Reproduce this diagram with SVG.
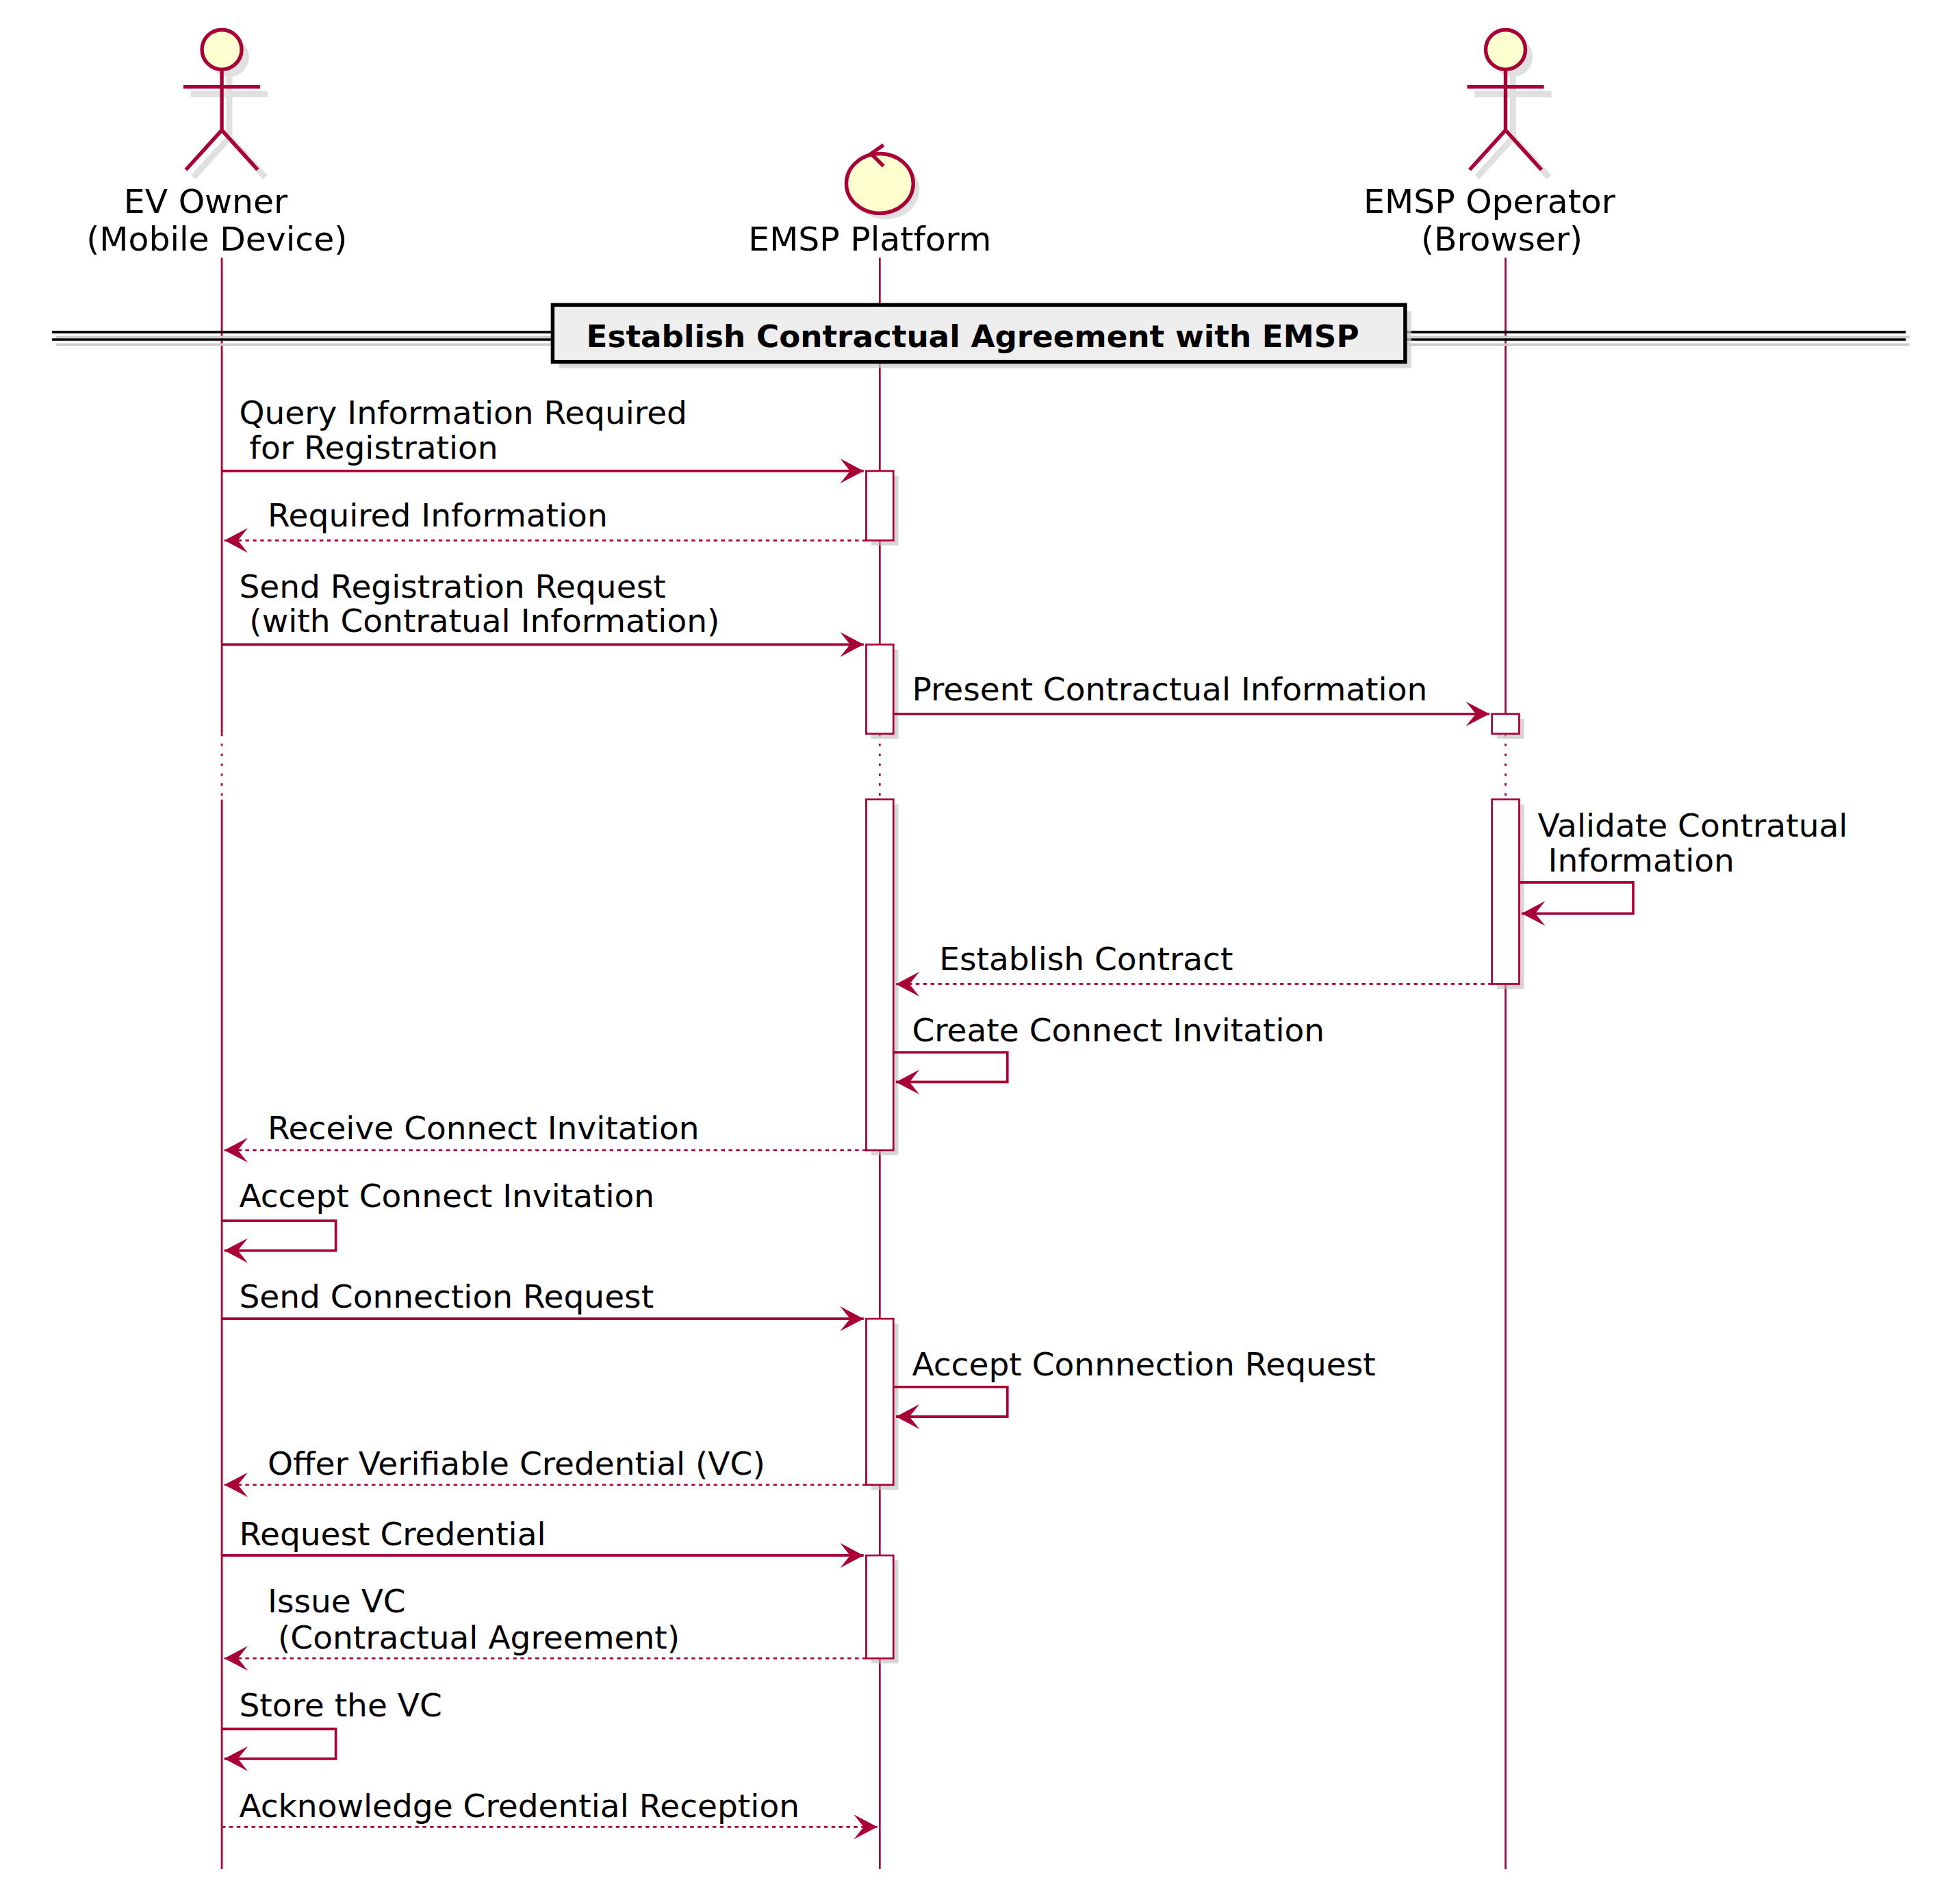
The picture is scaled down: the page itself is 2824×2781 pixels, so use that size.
<svg xmlns="http://www.w3.org/2000/svg" width="2824" height="2781" viewBox="0 0 2824 2781">
<style>
.t{font-family:"DejaVu Sans","Liberation Sans",sans-serif;font-size:26px;fill:#000}
.a{font-family:"DejaVu Sans","Liberation Sans",sans-serif;font-size:27px;fill:#000}
.ll{stroke:#A80036;stroke-width:1.5;fill:none}
.m{stroke:#A80036;stroke-width:2;fill:none}
.d{stroke:#A80036;stroke-width:1.5;fill:none;stroke-dasharray:3,3}
.act{fill:#fff;stroke:#A80036;stroke-width:1.5}
.sh{fill:#bbb;opacity:0.6}
</style>
<defs>
<marker id="arr" viewBox="-22 -11 24 22" refX="0" refY="0" markerWidth="24" markerHeight="22" markerUnits="userSpaceOnUse" orient="auto">
<path d="M0,0 L-19,-10 L-11,0 L-19,10 Z" fill="#A80036"/>
</marker>
<marker id="opn" viewBox="-22 -11 24 22" refX="0" refY="0" markerWidth="24" markerHeight="22" markerUnits="userSpaceOnUse" orient="auto">
<path d="M0,0 L-19,-10 L-11,0 L-19,10 Z" fill="#A80036"/>
</marker>
</defs>
<rect width="2824" height="2781" fill="#fff"/>
<g transform="scale(1.8103)">
<g id="lifelines">
<path class="ll" d="M179,208V592M179,645V1508M710,208V592M710,645V1508M1215,208V592M1215,645V1508"/>
<path class="ll" stroke-dasharray="2,6" d="M179,592V645M710,592V645M1215,592V645"/>
</g>
<g id="ev-owner">
<g opacity="0.6" transform="translate(6,6)"><circle cx="179" cy="40" r="16" fill="#ccc"/><path d="M179,56V105M148,70H210M179,105L150,137M179,105L208,137" stroke="#ccc" stroke-width="5"/></g>
<circle cx="179" cy="40" r="16" fill="#FEFECE" stroke="#A80036" stroke-width="3"/>
<path d="M179,56V105M148,70H210M179,105L150,137M179,105L208,137" stroke="#A80036" stroke-width="3" fill="none"/>
<text class="a" x="166" y="172" text-anchor="middle">EV Owner</text>
<text class="a" x="175" y="202" text-anchor="middle">(Mobile Device)</text>
</g>
<g id="emsp-platform">
<ellipse cx="715" cy="153" rx="27" ry="24" fill="#ccc" opacity="0.6"/>
<ellipse cx="710" cy="148" rx="27" ry="24" fill="#FEFECE" stroke="#A80036" stroke-width="3"/>
<path d="M713,117L703,124L713,134" stroke="#A80036" stroke-width="3" fill="none"/>
<text class="a" x="702" y="202" text-anchor="middle">EMSP Platform</text>
</g>
<g id="emsp-operator">
<g opacity="0.6" transform="translate(6,6)"><circle cx="1215" cy="40" r="16" fill="#ccc"/><path d="M1215,56V105M1184,70H1246M1215,105L1186,137M1215,105L1244,137" stroke="#ccc" stroke-width="5"/></g>
<circle cx="1215" cy="40" r="16" fill="#FEFECE" stroke="#A80036" stroke-width="3"/>
<path d="M1215,56V105M1184,70H1246M1215,105L1186,137M1215,105L1244,137" stroke="#A80036" stroke-width="3" fill="none"/>
<text class="a" x="1202" y="172" text-anchor="middle">EMSP Operator</text>
<text class="a" x="1212" y="202" text-anchor="middle">(Browser)</text>
</g>
<g id="divider">
<path d="M45,272H1541M45,278H1541" stroke="#ccc" stroke-width="2"/>
<path d="M42,268H1538M42,274H1538" stroke="#000" stroke-width="2"/>
<rect x="451" y="251" width="688" height="46" fill="#ccc" opacity="0.7"/>
<rect x="446" y="246" width="688" height="46" fill="#EEEEEE" stroke="#000" stroke-width="3"/>
<text x="785" y="280" text-anchor="middle" style="font-family:'DejaVu Sans','Liberation Sans',sans-serif;font-size:25px;font-weight:bold">Establish Contractual Agreement with EMSP</text>
</g>
<g id="activations">
<rect class="sh" x="703" y="384" width="22" height="56"/><rect class="act" x="699" y="380" width="22" height="56"/>
<rect class="sh" x="703" y="524" width="22" height="72"/><rect class="act" x="699" y="520" width="22" height="72"/>
<rect class="sh" x="1208" y="580" width="22" height="16"/><rect class="act" x="1204" y="576" width="22" height="16"/>
<rect class="sh" x="703" y="649" width="22" height="283"/><rect class="act" x="699" y="645" width="22" height="283"/>
<rect class="sh" x="1208" y="649" width="22" height="149"/><rect class="act" x="1204" y="645" width="22" height="149"/>
<rect class="sh" x="703" y="1068" width="22" height="134"/><rect class="act" x="699" y="1064" width="22" height="134"/>
<rect class="sh" x="703" y="1259" width="22" height="83"/><rect class="act" x="699" y="1255" width="22" height="83"/>
</g>
<g id="connectors">
<path class="m" marker-end="url(#arr)" d="M179,380H697"/>
<path class="d" marker-end="url(#arr)" d="M699,436H181"/>
<path class="m" marker-end="url(#arr)" d="M179,520H697"/>
<path class="m" marker-end="url(#arr)" d="M721,576H1202"/>
<path class="m" marker-end="url(#arr)" d="M1226,712H1318V737H1228"/>
<path class="d" marker-end="url(#arr)" d="M1204,794H723"/>
<path class="m" marker-end="url(#arr)" d="M721,849H813V873H723"/>
<path class="d" marker-end="url(#arr)" d="M699,928H181"/>
<path class="m" marker-end="url(#arr)" d="M179,985H271V1009H181"/>
<path class="m" marker-end="url(#arr)" d="M179,1064H697"/>
<path class="m" marker-end="url(#arr)" d="M721,1119H813V1143H723"/>
<path class="d" marker-end="url(#arr)" d="M699,1198H181"/>
<path class="m" marker-end="url(#arr)" d="M179,1255H697"/>
<path class="d" marker-end="url(#arr)" d="M699,1338H181"/>
<path class="m" marker-end="url(#arr)" d="M179,1395H271V1419H181"/>
<path class="d" marker-end="url(#opn)" d="M179,1474H708"/>
</g>
<g id="labels">
<text class="t" x="193" y="342">Query Information Required</text>
<text class="t" x="193" y="370" xml:space="preserve"> for Registration</text>
<text class="t" x="216" y="425">Required Information</text>
<text class="t" x="193" y="482">Send Registration Request</text>
<text class="t" x="193" y="510" xml:space="preserve"> (with Contratual Information)</text>
<text class="t" x="736" y="565">Present Contractual Information</text>
<text class="t" x="1241" y="675">Validate Contratual</text>
<text class="t" x="1241" y="703" xml:space="preserve"> Information</text>
<text class="t" x="758" y="783">Establish Contract</text>
<text class="t" x="736" y="840">Create Connect Invitation</text>
<text class="t" x="216" y="919">Receive Connect Invitation</text>
<text class="t" x="193" y="974">Accept Connect Invitation</text>
<text class="t" x="193" y="1055">Send Connection Request</text>
<text class="t" x="736" y="1110">Accept Connnection Request</text>
<text class="t" x="216" y="1190">Offer Verifiable Credential (VC)</text>
<text class="t" x="193" y="1247">Request Credential</text>
<text class="t" x="216" y="1301">Issue VC</text>
<text class="t" x="216" y="1330" xml:space="preserve"> (Contractual Agreement)</text>
<text class="t" x="193" y="1385">Store the VC</text>
<text class="t" x="193" y="1466">Acknowledge Credential Reception</text>
</g>
</g>
</svg>
